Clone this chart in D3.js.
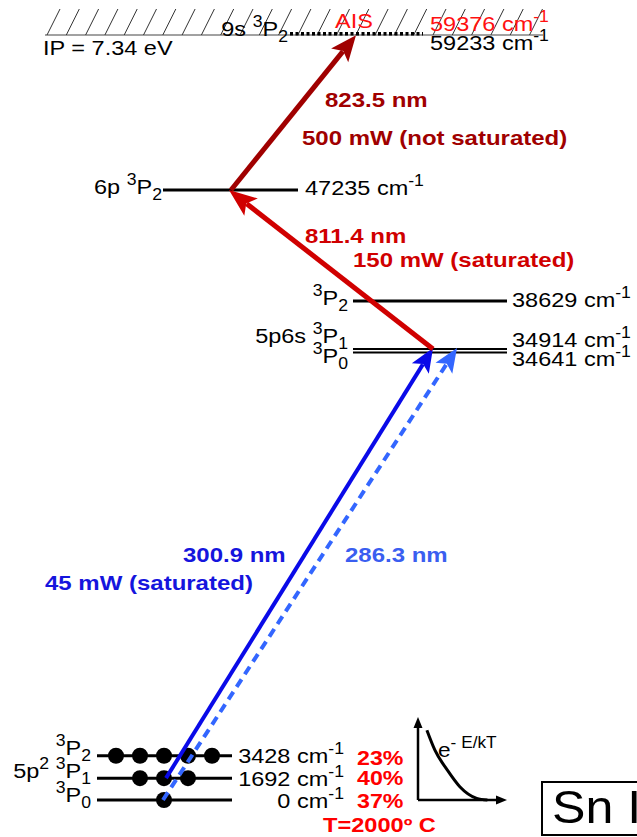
<!DOCTYPE html>
<html>
<head>
<meta charset="utf-8">
<script src="https://cdn.jsdelivr.net/npm/d3@7"></script>
<style>
  body { margin: 0; background: #fff; }
  svg { display: block; }
  text { font-family: "Liberation Sans", Arial, Helvetica, sans-serif; white-space: pre; }
</style>
</head>
<body>
<svg id="chart" width="637" height="837"></svg>
<script>
// ---- Sn I level data (term energies in cm^-1) ----
const groundTerms      = ["^{3}P_{0}", "5p^{2} ^{3}P_{1}", "^{3}P_{2}"];
const groundEnergies   = [0, 1692, 3428];
const groundDegeneracy = [1, 3, 5];            // 2J+1
const groundPopulation = [37, 40, 23];          // % at T = 2000 ºC
const temperatureC     = 2000;

const midTerms    = ["^{3}P_{0}", "5p6s ^{3}P_{1}", "^{3}P_{2}"];
const midEnergies = [34641, 34914, 38629];

const upperTerm   = "6p ^{3}P_{2}";
const upperEnergy = 47235;

const rydbergTerm   = "9s ^{3}P_{2}";
const ionEnergy     = 59233;
const aisEnergy     = 59376;
const ionPotential  = 7.34;   // eV

// ---- laser steps ----
const stepWavelengths = [300.9, 286.3, 811.4, 823.5];   // nm
const stepPowers      = ["45 mW (saturated)", "", "150 mW (saturated)", "500 mW (not saturated)"];

// Boltzmann inset curve (relative energy, relative population)
const boltzE = [0.10, 0.19, 0.33, 0.47, 0.66, 0.78];
const boltzN = [0.84, 0.60, 0.36, 0.16, 0.02, 0.00];

// ---- layout ----
const svg = d3.select("#chart");
const y = d3.scaleLinear().domain([0, ionEnergy]).range([800, 35]);

const C = {
  black: "#000", darkRed: "#a00000", red: "#d00000", brightRed: "#ff1010",
  blue: "#0a0ae8", lightBlue: "#3366ff", blueText: "#1515dd", lightBlueText: "#3a5ef0"
};

// text with ^{sup} and _{sub} markup, stretched horizontally
function rich(parent, x, yy, str, o = {}) {
  const size = o.size || 21, sx = o.sx || 1.12;
  const t = parent.append("text")
    .attr("transform", `translate(${x},${yy}) scale(${sx},1)`)
    .attr("font-size", size)
    .attr("font-weight", o.weight || "normal")
    .attr("fill", o.fill || C.black)
    .attr("text-anchor", o.anchor || "start");
  const re = /([\^_])\{([^}]*)\}|([^\^_]+)/g;
  let m, shift = 0;
  while ((m = re.exec(str))) {
    let target = 0, txt, fs = size;
    if (m[1]) {
      target = m[1] === "^" ? -size * 0.42 : size * 0.3;
      txt = m[2]; fs = size * 0.75;
    } else txt = m[3];
    t.append("tspan").attr("dy", target - shift).attr("font-size", fs).text(txt);
    shift = target;
  }
  return t;
}

function arrow(g, x1, y1, x2, y2, o) {
  const dx = x2 - x1, dy = y2 - y1, L = Math.hypot(dx, dy);
  const ux = dx / L, uy = dy / L, px = -uy, py = ux;
  const hl = o.headLen, hw = o.headW / 2;
  g.append("line")
    .attr("x1", x1).attr("y1", y1)
    .attr("x2", x2 - ux * hl * 0.8).attr("y2", y2 - uy * hl * 0.8)
    .attr("stroke", o.color).attr("stroke-width", o.width)
    .attr("stroke-dasharray", o.dash || null);
  const bx = x2 - ux * hl, by = y2 - uy * hl;
  const nx = x2 - ux * hl * 0.78, ny = y2 - uy * hl * 0.78;
  g.append("path")
    .attr("d", `M${x2},${y2}L${bx + px * hw},${by + py * hw}L${nx},${ny}L${bx - px * hw},${by - py * hw}Z`)
    .attr("fill", o.color);
}

const cm = e => `${e} cm^{-1}`;

// ---- ionization limit with hatching ----
const ip = svg.append("g");
const yIP = y(ionEnergy);
ip.append("line").attr("x1", 45).attr("x2", 543).attr("y1", yIP).attr("y2", yIP)
  .attr("stroke", "#444").attr("stroke-width", 1);
ip.selectAll("line.hatch").data(d3.range(47, 535, 19.3)).join("line")
  .attr("class", "hatch")
  .attr("x1", d => d).attr("y1", yIP)
  .attr("x2", d => d + 13).attr("y2", yIP - 26)
  .attr("stroke", "#333").attr("stroke-width", 1);
// 9s 3P2 level (dotted)
ip.append("line").attr("x1", 290).attr("x2", 423).attr("y1", y(aisEnergy) + 0.5).attr("y2", y(aisEnergy) + 0.5)
  .attr("stroke", "#000").attr("stroke-width", 3.5).attr("stroke-dasharray", "3,2.5");
rich(ip, 288, yIP + 1, rydbergTerm, { anchor: "end" });
rich(ip, 43, 55, `IP = ${ionPotential} eV`);
rich(ip, 335, 28, "AIS", { fill: C.brightRed });
rich(ip, 430, 31, cm(aisEnergy), { fill: C.brightRed });
rich(ip, 430, 50, cm(ionEnergy));

// ---- 6p level ----
const up = svg.append("g");
up.append("line").attr("x1", 163).attr("x2", 298)
  .attr("y1", y(upperEnergy)).attr("y2", y(upperEnergy))
  .attr("stroke", "#000").attr("stroke-width", 3);
rich(up, 162, 194, upperTerm, { anchor: "end" });
rich(up, 305, 195, cm(upperEnergy));

// ---- 5p6s levels ----
const mid = svg.append("g");
mid.selectAll("line").data(midEnergies).join("line")
  .attr("x1", 353).attr("x2", 507)
  .attr("y1", d => y(d)).attr("y2", d => y(d))
  .attr("stroke", "#000").attr("stroke-width", (d, i) => i === 2 ? 3 : 2);
const midLeftY  = [363, 343, 305];
const midRightY = [366, 347, 307];
midTerms.forEach((t, i) => rich(mid, 348, midLeftY[i], t, { anchor: "end" }));
midEnergies.forEach((e, i) => rich(mid, 512, midRightY[i], cm(e)));

// ---- ground 5p2 levels with Boltzmann populations ----
const gr = svg.append("g");
gr.selectAll("line").data(groundEnergies).join("line")
  .attr("x1", 97).attr("x2", 232)
  .attr("y1", d => y(d)).attr("y2", d => y(d))
  .attr("stroke", "#000").attr("stroke-width", 3);
const dotX = d3.scalePoint().domain(d3.range(-2, 3)).range([116, 212]);
groundEnergies.forEach((e, i) => {
  const n = groundDegeneracy[i], half = (n - 1) / 2;
  gr.selectAll(null).data(d3.range(-half, half + 1)).join("circle")
    .attr("cx", d => dotX(d)).attr("cy", y(e)).attr("r", 8).attr("fill", "#000");
});
const groundLeftY  = [802, 778, 755];
const groundRightY = [808, 786, 763];
const groundPctY   = [808, 785, 765];
groundTerms.forEach((t, i) => rich(gr, 91, groundLeftY[i], t, { anchor: "end" }));
groundEnergies.forEach((e, i) => rich(gr, 344, groundRightY[i], cm(e), { anchor: "end" }));
groundPopulation.forEach((p, i) =>
  rich(gr, 357, groundPctY[i], `${p}%`, { weight: "bold", size: 20, sx: 1.16, fill: "#ff0000" }));
rich(gr, 323, 832, `T=${temperatureC}º C`, { weight: "bold", size: 20, sx: 1.18, fill: "#ff0000" });

// ---- laser transitions ----
const tr = svg.append("g");
// step 1 (solid): 3P1 -> 5p6s 3P1 ; alternative (dashed): 3P0 -> 5p6s 3P1
arrow(tr, 166, y(groundEnergies[1]), 433, y(midEnergies[1]) - 1,
  { color: C.blue, width: 4, headLen: 24, headW: 20 });
arrow(tr, 163, y(groundEnergies[0]), 457, y(midEnergies[1]) - 1,
  { color: C.lightBlue, width: 4, headLen: 24, headW: 20, dash: "9,6" });
// step 2: 5p6s 3P1 -> 6p 3P2
arrow(tr, 433, y(midEnergies[1]), 229, y(upperEnergy),
  { color: C.red, width: 5, headLen: 28, headW: 22 });
// step 3: 6p 3P2 -> autoionizing 9s 3P2
arrow(tr, 231, y(upperEnergy), 356, y(aisEnergy) + 2,
  { color: C.darkRed, width: 5, headLen: 26, headW: 22 });

const bold = (x, yy, s, fill) => rich(tr, x, yy, s, { weight: "bold", size: 20, sx: 1.2, fill });
bold(183, 562, `${stepWavelengths[0]} nm`, C.blueText);
bold(45, 590, stepPowers[0], C.blueText);
bold(345, 562, `${stepWavelengths[1]} nm`, C.lightBlueText);
bold(305, 243, `${stepWavelengths[2]} nm`, C.red);
bold(353, 267, stepPowers[2], C.red);
bold(325, 107, `${stepWavelengths[3]} nm`, C.darkRed);
bold(302, 145, stepPowers[3], C.darkRed);

// ---- Boltzmann inset ----
const ins = svg.append("g");
const ix = d3.scaleLinear().domain([0, 1]).range([418, 507]);
const iy = d3.scaleLinear().domain([0, 1]).range([800, 717]);
ins.append("line").attr("x1", ix(0)).attr("x2", ix(0)).attr("y1", iy(0)).attr("y2", iy(0.92))
  .attr("stroke", "#000").attr("stroke-width", 2.5);
ins.append("line").attr("x1", ix(0)).attr("x2", ix(0.92)).attr("y1", iy(0)).attr("y2", iy(0))
  .attr("stroke", "#000").attr("stroke-width", 2.5);
ins.append("path").attr("d", `M${ix(0)},${iy(1)}l-4.5,11h9Z`).attr("fill", "#000");
ins.append("path").attr("d", `M${ix(1)},${iy(0)}l-11,-4.5v9Z`).attr("fill", "#000");
ins.append("path")
  .datum(d3.zip(boltzE, boltzN))
  .attr("d", d3.line().x(d => ix(d[0])).y(d => iy(d[1])).curve(d3.curveMonotoneX))
  .attr("fill", "none").attr("stroke", "#000").attr("stroke-width", 3);
const eq = ins.append("text")
  .attr("transform", "translate(438,757) scale(1.08,1)")
  .attr("font-size", 21);
eq.append("tspan").text("e");
eq.append("tspan").attr("dy", -9).attr("font-size", 16).text("- E/kT");

// ---- element label ----
const lab = svg.append("g");
lab.append("rect").attr("x", 542).attr("y", 782).attr("width", 120).attr("height", 53)
  .attr("fill", "none").attr("stroke", "#000").attr("stroke-width", 2);
rich(lab, 552, 823, "Sn I", { size: 46, sx: 1.09 });
</script>
</body>
</html>
